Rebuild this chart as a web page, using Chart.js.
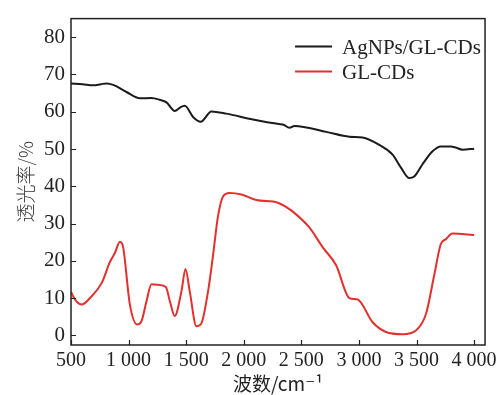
<!DOCTYPE html>
<html>
<head>
<meta charset="utf-8">
<script src="https://cdn.jsdelivr.net/npm/chart.js@4/dist/chart.umd.min.js"></script>
<style>
  body { margin: 0; background: #fff; }
  canvas { display: block; }
</style>
</head>
<body>
<canvas id="myChart" width="501" height="395"></canvas>
<script>
// AgNPs/GL-CDs (black) — wavenumber / transmittance
const agX = [500, 600, 693, 760, 809, 867, 982, 1098, 1199, 1270, 1329, 1401, 1450, 1488, 1560, 1626, 1719, 1849, 2080, 2305, 2339, 2397, 2441, 2715, 2917, 3032, 3177, 3292, 3365, 3437, 3480, 3552, 3639, 3711, 3798, 3841, 3899, 4000];
const agY = [67.6, 67.4, 67.1, 67.4, 67.6, 67.2, 65.3, 63.6, 63.7, 63.2, 62.5, 60.2, 61.2, 61.6, 58.6, 57.3, 60.1, 59.5, 57.9, 56.7, 56.6, 55.7, 56.2, 54.6, 53.3, 53.1, 51.1, 48.5, 45.0, 42.2, 42.6, 45.9, 49.4, 50.7, 50.7, 50.4, 49.8, 50.1];

// GL-CDs (red)
const cdX = [500, 535, 593, 665, 766, 838, 881, 925, 953, 1011, 1074, 1113, 1156, 1199, 1243, 1323, 1358, 1401, 1459, 1494, 1531, 1589, 1632, 1690, 1733, 1776, 1819, 1877, 1979, 2109, 2296, 2369, 2426, 2571, 2686, 2802, 2917, 2989, 3119, 3235, 3379, 3495, 3582, 3654, 3711, 3755, 3812, 4000];
const cdY = [11.6, 9.6, 8.3, 10.0, 14.0, 19.7, 22.1, 25.1, 23.6, 8.3, 2.9, 3.9, 9.2, 13.7, 13.6, 13.0, 9.2, 5.2, 11.8, 17.8, 11.8, 2.4, 3.2, 11.8, 21.4, 31.9, 37.2, 38.2, 37.8, 36.3, 35.6, 34.4, 33.2, 28.9, 23.6, 18.8, 10.0, 9.6, 3.5, 0.9, 0.3, 1.3, 5.7, 16.2, 24.5, 25.8, 27.3, 26.9];

const xTicks = [500, 1000, 1500, 2000, 2500, 3000, 3500, 4000];
const yTicks = [0, 10, 20, 30, 40, 50, 60, 70, 80];

const labels = ["AgNPs/GL-CDs", "GL-CDs"];
const colors = ["#1b1b1b", "#e2302c"];

const serif = "'Liberation Serif', 'DejaVu Serif', serif";

const toPoints = (xs, ys) => xs.map((x, i) => ({ x: x, y: ys[i] }));

// frame + inward ticks
const framePlugin = {
  id: "frame",
  afterDraw(chart) {
    const { ctx, chartArea } = chart;
    const xs = chart.scales.x;
    const ys = chart.scales.y;
    ctx.save();
    ctx.strokeStyle = "#222";
    ctx.lineWidth = 1.5;
    ctx.strokeRect(chartArea.left, chartArea.top, chartArea.right - chartArea.left, chartArea.bottom - chartArea.top);
    ctx.lineWidth = 1.2;
    ctx.beginPath();
    xs.ticks.forEach((t) => {
      const px = Math.round(xs.getPixelForValue(t.value)) + 0.5;
      ctx.moveTo(px, chartArea.bottom);
      ctx.lineTo(px, chartArea.bottom - 5);
    });
    ys.ticks.forEach((t) => {
      const py = Math.round(ys.getPixelForValue(t.value)) + 0.5;
      ctx.moveTo(chartArea.left, py);
      ctx.lineTo(chartArea.left + 5, py);
    });
    ctx.stroke();
    ctx.restore();
  },
};

// legend inside top right
const legendPlugin = {
  id: "innerLegend",
  afterDraw(chart) {
    const { ctx, chartArea } = chart;
    ctx.save();
    ctx.font = "21px " + serif;
    ctx.textBaseline = "middle";
    ctx.textAlign = "left";
    chart.data.datasets.forEach((ds, i) => {
      const y = chartArea.top + 28 + i * 25;
      ctx.strokeStyle = ds.borderColor;
      ctx.lineWidth = 2;
      ctx.beginPath();
      ctx.moveTo(chartArea.right - 190, y);
      ctx.lineTo(chartArea.right - 153, y);
      ctx.stroke();
      ctx.fillStyle = "#222";
      ctx.fillText(ds.label, chartArea.right - 143, y + 2);
    });
    ctx.restore();
  },
};

const config = {
  type: "line",
  data: {
    datasets: [
      {
        label: labels[0],
        data: toPoints(agX, agY),
        borderColor: colors[0],
        borderWidth: 2,
        pointRadius: 0,
        tension: 0.4,
        cubicInterpolationMode: "monotone",
      },
      {
        label: labels[1],
        data: toPoints(cdX, cdY),
        borderColor: colors[1],
        borderWidth: 2,
        pointRadius: 0,
        tension: 0.4,
        cubicInterpolationMode: "monotone",
      },
    ],
  },
  options: {
    responsive: false,
    animation: false,
    layout: { padding: { left: 0, top: 11, right: 15, bottom: 0 } },
    plugins: {
      legend: { display: false },
      tooltip: { enabled: false },
    },
    scales: {
      x: {
        type: "linear",
        min: 500,
        max: 4095,
        afterBuildTicks: (scale) => {
          scale.ticks = xTicks.map((v) => ({ value: v }));
        },
        afterFit: (scale) => {
          scale.height = 50;
        },
        grid: { display: false, drawTicks: false },
        border: { display: false },
        ticks: {
          padding: 4,
          color: "#222",
          font: { family: serif, size: 20 },
          maxRotation: 0,
          autoSkip: false,
          callback: (v) => String(v).replace(/\B(?=(\d{3})+(?!\d))/g, " "),
        },
        title: {
          display: true,
          text: "波数/cm⁻¹",
          color: "#222",
          padding: 0,
          font: { family: "'Noto Sans CJK SC', " + serif, size: 19 },
        },
      },
      y: {
        min: -2.6,
        max: 85,
        afterBuildTicks: (scale) => {
          scale.ticks = yTicks.map((v) => ({ value: v }));
        },
        afterFit: (scale) => {
          scale.width = 71;
        },
        grid: { display: false, drawTicks: false },
        border: { display: false },
        ticks: {
          padding: 6,
          color: "#222",
          font: { family: serif, size: 21 },
          autoSkip: false,
        },
        title: {
          display: true,
          text: "透光率/%",
          color: "#333",
          padding: 14,
          font: { family: "'Noto Sans CJK SC', " + serif, size: 19, weight: 300 },
        },
      },
    },
  },
  plugins: [framePlugin, legendPlugin],
};

const ctx = document.getElementById("myChart").getContext("2d");
new Chart(ctx, config);
</script>
</body>
</html>
